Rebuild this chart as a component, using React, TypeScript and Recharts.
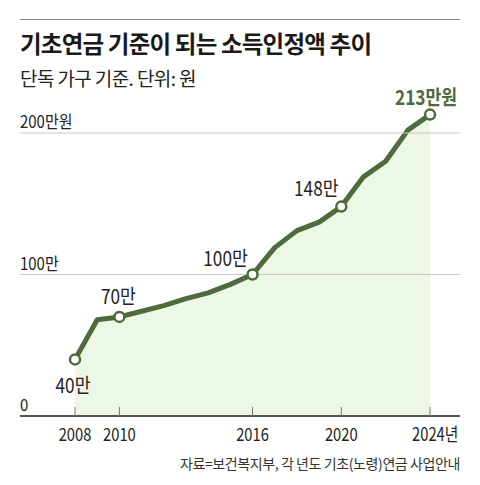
import React from 'react';
import { AreaChart, Area, XAxis, YAxis, ReferenceLine, LabelList } from 'recharts';

const years = [2008, 2009, 2010, 2011, 2012, 2013, 2014, 2015, 2016, 2017, 2018, 2019, 2020, 2021, 2022, 2023, 2024];
const values = [40, 68, 70, 74, 78, 83, 87, 93, 100, 119, 131, 137, 148, 169, 180, 202, 213];
const xTicks = [2008, 2010, 2016, 2020, 2024];
const yTicks = [0, 100, 200];
const yTickLabels = ['0', '100만', '200만원'];
const labeledYears = [2008, 2010, 2016, 2020, 2024];

const data = years.map((year, i) => ({ year, value: values[i] }));

const GREEN = '#4d6b3c';
const FILL = '#edf7e6';
const KR_FONT = "'Noto Sans CJK KR', sans-serif";

const labelOffsets: Record<number, [number, number]> = {
  2008: [-2, 24],
  2010: [-1, -22],
  2016: [-27, -18],
  2020: [-25, -20],
  2024: [-4, -19],
};

const Narrow = ({ x, y, sx, anchor, size, fill, weight, children }: any) => (
  <text
    transform={`translate(${x},${y}) scale(${sx},1)`}
    x={0}
    y={0}
    textAnchor={anchor}
    dominantBaseline="central"
    fontSize={size}
    fontFamily={KR_FONT}
    fill={fill}
    fontWeight={weight || 'normal'}
  >
    {children}
  </text>
);

const XTick = (props: any) => {
  const { x, y, payload } = props;
  const last = payload.value === xTicks[xTicks.length - 1];
  return (
    <g>
      <line x1={x} x2={x} y1={y - 9} y2={y} stroke="#777" strokeWidth={1} />
      <Narrow x={last ? x - 18 : x} y={y + 17} sx={0.82} anchor={last ? 'start' : 'middle'} size={18} fill="#222">
        {payload.value}
        {last ? '년' : ''}
      </Narrow>
    </g>
  );
};

const YTick = (props: any) => {
  const { y, payload } = props;
  const idx = yTicks.indexOf(payload.value);
  return (
    <Narrow x={20} y={y - 12} sx={0.88} anchor="start" size={17} fill="#222">
      {yTickLabels[idx]}
    </Narrow>
  );
};

const Dot = (props: any) => {
  const { cx, cy, payload } = props;
  if (!labeledYears.includes(payload.year)) return <g key={`d${payload.year}`} />;
  return <circle key={`d${payload.year}`} cx={cx} cy={cy} r={5} fill="#fff" stroke={GREEN} strokeWidth={2.5} />;
};

const ValueLabel = (props: any) => {
  const { x, y, value, index } = props;
  const year = years[index];
  if (!labeledYears.includes(year)) return null;
  const [dx, dy] = labelOffsets[year];
  const last = year === years[years.length - 1];
  return (
    <Narrow x={x + dx} y={y + dy} sx={0.84} anchor="middle" size={20.5} fill={last ? GREEN : '#222'} weight={last ? 600 : 'normal'}>
      {value}
      {last ? '만원' : '만'}
    </Narrow>
  );
};

export default function App() {
  return (
    <div style={{ position: 'absolute', left: 0, top: 0, width: 480, height: 485, background: '#fff', overflow: 'hidden' }}>
      <div style={{ position: 'absolute', left: 20, top: 19, width: 440, height: 0, borderTop: '1.5px solid #888' }} />
      <div
        style={{
          position: 'absolute',
          left: 20,
          top: 28,
          fontSize: 23.5,
          lineHeight: '30px',
          fontWeight: 'bold',
          fontFamily: KR_FONT,
          color: '#1a1a1a',
          letterSpacing: -0.8,
          whiteSpace: 'nowrap',
        }}
      >
        기초연금 기준이 되는 소득인정액 추이
      </div>
      <div
        style={{
          position: 'absolute',
          left: 20,
          top: 65,
          fontSize: 19,
          lineHeight: '25px',
          fontFamily: KR_FONT,
          color: '#222',
          letterSpacing: -0.6,
          whiteSpace: 'nowrap',
        }}
      >
        단독 가구 기준. 단위: 원
      </div>
      <div style={{ position: 'absolute', left: 0, top: 0 }}>
        <AreaChart width={480} height={485} data={data} margin={{ top: 90.55, right: 20, bottom: 39, left: 19 }}>
          <XAxis
            dataKey="year"
            type="number"
            domain={[2005.52, 2025.35]}
            ticks={xTicks}
            tick={<XTick />}
            tickLine={false}
            tickSize={0}
            tickMargin={0}
            height={30}
            axisLine={{ stroke: '#555', strokeWidth: 2 }}
            interval={0}
          />
          <YAxis
            type="number"
            domain={[0, 230]}
            ticks={yTicks}
            width={1}
            tick={<YTick />}
            tickLine={false}
            tickSize={0}
            tickMargin={0}
            axisLine={false}
            interval={0}
          />
          <ReferenceLine y={100} stroke="#c8c8c8" strokeWidth={1} />
          <ReferenceLine y={200} stroke="#c8c8c8" strokeWidth={1} />
          <Area
            type="linear"
            dataKey="value"
            stroke={GREEN}
            strokeWidth={5}
            strokeLinejoin="round"
            fill={FILL}
            fillOpacity={1}
            dot={<Dot />}
            activeDot={false}
            isAnimationActive={false}
          >
            <LabelList dataKey="value" content={<ValueLabel />} />
          </Area>
        </AreaChart>
      </div>
      <div
        style={{
          position: 'absolute',
          right: 20,
          top: 454,
          fontSize: 14,
          lineHeight: '18px',
          fontFamily: KR_FONT,
          color: '#333',
          letterSpacing: -0.4,
          whiteSpace: 'nowrap',
        }}
      >
        자료=보건복지부, 각 년도 기초(노령)연금 사업안내
      </div>
    </div>
  );
}
